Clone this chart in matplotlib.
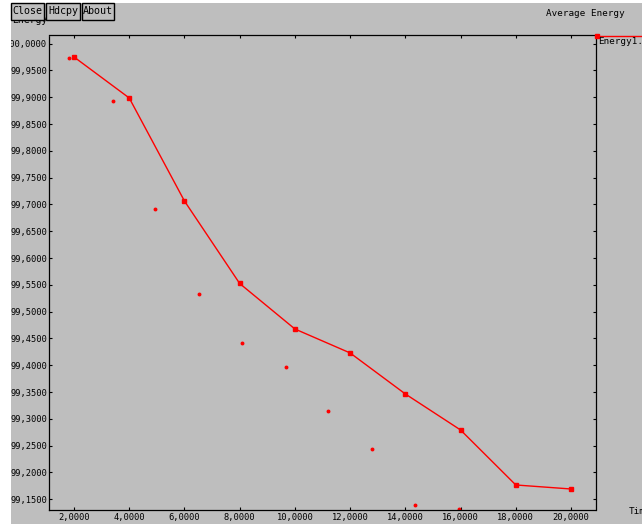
import matplotlib
matplotlib.use("Agg")
import matplotlib.pyplot as plt
from matplotlib.patches import Rectangle
from matplotlib.lines import Line2D
from matplotlib.ticker import FuncFormatter


W, H = 642, 524
GRAY = "#bebebe"
RED = "#ff0000"
FONT = "DejaVu Sans Mono"
FS = 6.7
TICK_FS = 6.3

# averaged energy, one point per time step
time_steps = [2, 4, 6, 8, 10, 12, 14, 16, 18, 20]
avg_energy = [99.9752, 99.8987, 99.7065, 99.5526, 99.4677,
              99.4230, 99.3465, 99.2793, 99.1767, 99.1692]

# raw samples drawn as loose dots
raw_time = [1.82, 3.41, 4.93, 6.53, 8.08, 9.68, 11.20, 12.79, 14.35, 15.94]
raw_energy = [99.973, 99.893, 99.692, 99.533, 99.442,
              99.397, 99.315, 99.244, 99.139, 99.132]

x_ticks = [2, 4, 6, 8, 10, 12, 14, 16, 18, 20]
y_ticks = [99.15 + 0.05 * i for i in range(18)]

buttons = ["Close", "Hdcpy", "About"]


def px(x, y):
    # pixel (from top-left) -> figure fraction
    return x / W, 1 - y / H


def comma_fmt(v, pos):
    return f"{v:.4f}".replace(".", ",")


def main():
    fig = plt.figure(figsize=(W / 100, H / 100), dpi=100)
    fig.patch.set_facecolor(GRAY)

    left, top, right, bottom = 49, 35, 596, 510
    ax = fig.add_axes([left / W, 1 - bottom / H, (right - left) / W, (bottom - top) / H])
    ax.set_facecolor(GRAY)

    ax.plot(time_steps, avg_energy, color=RED, lw=1.0, marker="s", ms=2.6,
            mec=RED, mfc=RED)
    ax.plot(raw_time, raw_energy, ls="none", marker="o", ms=1.8,
            mec=RED, mfc=RED)

    ax.set_xlim(1.0945, 20.905)
    ax.set_ylim(99.130, 100.0162)
    ax.set_xticks(x_ticks)
    ax.set_yticks(y_ticks)
    ax.xaxis.set_major_formatter(FuncFormatter(comma_fmt))
    ax.yaxis.set_major_formatter(FuncFormatter(comma_fmt))
    ax.tick_params(direction="in", length=2.5, width=0.8, colors="black",
                   top=True, right=True, labelsize=TICK_FS)
    ax.tick_params(axis="y", pad=1.5)
    ax.tick_params(axis="x", pad=2.5)
    for lab in ax.get_xticklabels() + ax.get_yticklabels():
        lab.set_fontfamily(FONT)

    for sp in ax.spines.values():
        sp.set_linestyle((0, (1, 1)))
        sp.set_linewidth(0.9)
        sp.set_color("black")

    # axis labels and title, placed like the old X viewer does
    x, y = px(12, 20)
    fig.text(x, y, "Energy", fontfamily=FONT, fontsize=FS + 0.3, va="center", ha="left")
    x, y = px(629, 512)
    fig.text(x, y, "Time", fontfamily=FONT, fontsize=FS, va="center", ha="left")
    x, y = px(546, 14)
    fig.text(x, y, "Average Energy", fontfamily=FONT, fontsize=FS, va="center", ha="left")

    # legend entry at the top right corner
    x0, y0 = px(597, 36)
    x1, _ = px(W, 36)
    fig.add_artist(Line2D([x0, x1], [y0, y0], color=RED, lw=1.0,
                          transform=fig.transFigure))
    fig.add_artist(Line2D([x0], [y0], color=RED, marker="s", ms=2.6,
                          transform=fig.transFigure))
    x, y = px(598, 42)
    fig.text(x, y, "Energy1.xg", fontfamily=FONT, fontsize=FS, va="center", ha="left")

    # white window border (left and top)
    fig.add_artist(Rectangle((0, 0), 11 / W, 1, transform=fig.transFigure,
                             facecolor="white", edgecolor="none", zorder=10))
    fig.add_artist(Rectangle((0, 1 - 3 / H), 1, 3 / H, transform=fig.transFigure,
                             facecolor="white", edgecolor="none", zorder=10))

    # buttons
    edges = [(11, 44), (46, 80), (82, 114)]
    for name, (bx0, bx1) in zip(buttons, edges):
        fx, fy = px(bx0, 20)
        fig.add_artist(Rectangle((fx, fy), (bx1 - bx0) / W, 17 / H,
                                 transform=fig.transFigure, facecolor=GRAY,
                                 edgecolor="black", lw=1.0, zorder=11))
        cx, cy = px((bx0 + bx1) / 2, 11.5)
        fig.text(cx, cy, name, fontfamily=FONT, fontsize=FS + 0.5,
                 ha="center", va="center", zorder=12)

    fig.savefig("out.png", dpi=100, facecolor=fig.get_facecolor())
    plt.close(fig)


if __name__ == "__main__":
    main()
